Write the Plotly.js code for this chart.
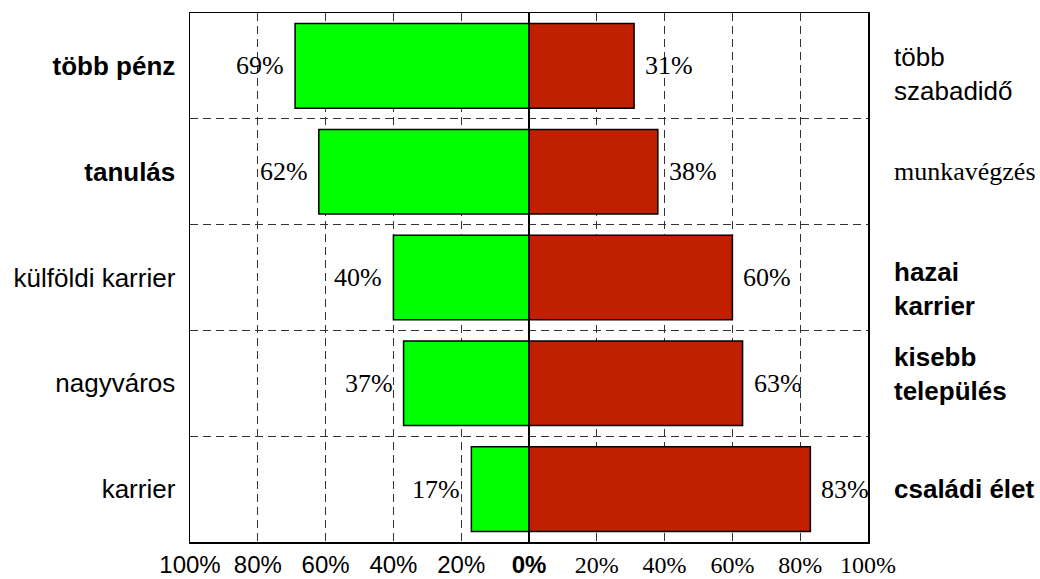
<!DOCTYPE html>
<html>
<head>
<meta charset="utf-8">
<script src="https://cdn.plot.ly/plotly-3.0.1.min.js"></script>
<style>html,body{margin:0;padding:0;background:#fff;}#chart{width:1040px;height:579px;}</style>
</head>
<body>
<div id="chart"></div>
<script>
// ---- data ----
var leftCategories = ["több pénz", "tanulás", "külföldi karrier", "nagyváros", "karrier"];
var rightCategories = ["több<br>szabadidő", "munkavégzés", "hazai<br>karrier", "kisebb<br>település", "családi élet"];
var leftValues = [69, 62, 40, 37, 17];
var rightValues = [31, 38, 60, 63, 83];
var tickValues = [-100, -80, -60, -40, -20, 0, 20, 40, 60, 80, 100];
var tickLabels = ["100%", "80%", "60%", "40%", "20%", "0%", "20%", "40%", "60%", "80%", "100%"];

// ---- styling ----
var SANS = "Liberation Sans, Arial, sans-serif";
var SERIF = "Liberation Serif, Times New Roman, serif";
var leftBold = [true, true, false, false, false];
var rightStyle = ["sans", "serif", "bold", "bold", "bold"];
var rightShift = [-8, 0, -11, 9, 0];
var GREEN = "#00ff00", RED = "#c02000";

var yIds = leftCategories.map(function (c, i) { return "c" + i; });

var traces = [
  {
    type: "bar", orientation: "h", y: yIds,
    x: leftValues.map(function (v) { return -v; }),
    marker: { color: GREEN, line: { color: "#000", width: 1.5 } },
    hoverinfo: "skip", showlegend: false
  },
  {
    type: "bar", orientation: "h", y: yIds,
    x: rightValues,
    marker: { color: RED, line: { color: "#000", width: 1.5 } },
    hoverinfo: "skip", showlegend: false
  }
];

var annotations = [];
yIds.forEach(function (id, i) {
  annotations.push({
    x: -leftValues[i], y: id, xref: "x", yref: "y",
    text: leftValues[i] + "%", showarrow: false,
    xanchor: "right", yanchor: "middle", xshift: -9,
    font: { family: SERIF, size: 26, color: "#000" }
  });
  annotations.push({
    x: rightValues[i], y: id, xref: "x", yref: "y",
    text: rightValues[i] + "%", showarrow: false,
    xanchor: "left", yanchor: "middle", xshift: 9,
    font: { family: SERIF, size: 26, color: "#000" }
  });
  var st = rightStyle[i];
  annotations.push({
    x: 1, y: id, xref: "paper", yref: "y",
    text: st === "bold" ? "<b>" + rightCategories[i] + "</b>" : rightCategories[i],
    showarrow: false, xanchor: "left", yanchor: "middle", align: "left",
    xshift: 24, yshift: rightShift[i],
    font: { family: st === "serif" ? SERIF : SANS, size: 26, color: "#000" }
  });
});

var xTickText = tickValues.map(function (v, i) {
  if (v === 0) return "<b>" + tickLabels[i] + "</b>";
  if (v > 0) return '<span style="font-family:' + SERIF + '">' + tickLabels[i] + "</span>";
  return tickLabels[i];
});

var layout = {
  width: 1040, height: 579,
  margin: { l: 190, r: 172, t: 13, b: 37, pad: 0 },
  paper_bgcolor: "#fff", plot_bgcolor: "#fff",
  barmode: "relative", bargap: 0.2,
  showlegend: false,
  xaxis: {
    range: [-100, 100], tickmode: "array", tickvals: tickValues, ticktext: xTickText,
    ticks: "", ticklabelstandoff: 1,
    tickfont: { family: SANS, size: 24, color: "#000" },
    showgrid: true, gridcolor: "#333", gridwidth: 1, griddash: "8px,5px",
    zeroline: true, zerolinecolor: "#000", zerolinewidth: 2,
    showline: true, linecolor: "#000", linewidth: 1.5, mirror: true,
    fixedrange: true
  },
  yaxis: {
    type: "category", categoryorder: "array", categoryarray: yIds,
    range: [4.5, -0.5], tickmode: "array", tickvals: yIds,
    ticktext: leftCategories.map(function (c, i) { return leftBold[i] ? "<b>" + c + "</b>" : c; }),
    tickson: "boundaries", ticks: "", ticklabelstandoff: 8,
    tickfont: { family: SANS, size: 26, color: "#000" },
    showgrid: true, gridcolor: "#333", gridwidth: 1, griddash: "8px,5px",
    showline: true, linecolor: "#000", linewidth: 1.5, mirror: true,
    zeroline: false, fixedrange: true
  },
  annotations: annotations
};

Plotly.newPlot("chart", traces, layout, { displayModeBar: false, staticPlot: true });
</script>
</body>
</html>
